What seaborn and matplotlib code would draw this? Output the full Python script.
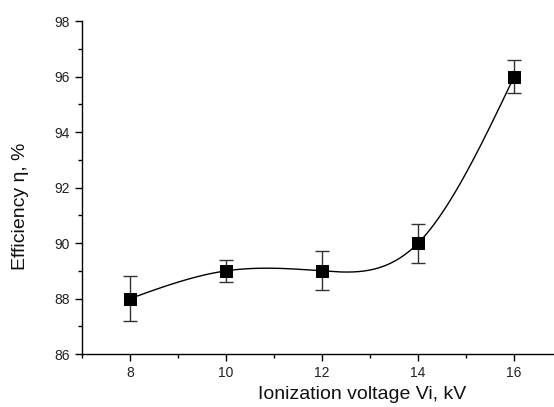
import numpy as np
import pandas as pd
import matplotlib
matplotlib.use("Agg")
import matplotlib.pyplot as plt
import seaborn as sns
from matplotlib.ticker import MultipleLocator

sns.set_theme(style="ticks")
plt.rcParams.update({
    'font.family': ['Liberation Sans', 'DejaVu Sans'],
    'xtick.direction': 'out',
    'ytick.direction': 'out',
})

# measured values
voltage = [8, 10, 12, 14, 16]
efficiency = [88.0, 89.0, 89.0, 90.0, 96.0]
error = [0.8, 0.4, 0.7, 0.7, 0.6]


def natural_spline(x, y, xs):
    # natural cubic spline through the points (smooth line like Origin's)
    x = np.asarray(x, float)
    y = np.asarray(y, float)
    n = len(x)
    h = np.diff(x)
    A = np.zeros((n, n))
    b = np.zeros(n)
    A[0, 0] = A[-1, -1] = 1
    for i in range(1, n - 1):
        A[i, i - 1] = h[i - 1]
        A[i, i] = 2 * (h[i - 1] + h[i])
        A[i, i + 1] = h[i]
        b[i] = 3 * ((y[i + 1] - y[i]) / h[i] - (y[i] - y[i - 1]) / h[i - 1])
    c = np.linalg.solve(A, b)
    out = np.empty_like(xs)
    for k, xv in enumerate(xs):
        i = min(np.searchsorted(x, xv, side='right') - 1, n - 2)
        i = max(i, 0)
        dx = xv - x[i]
        bi = (y[i + 1] - y[i]) / h[i] - h[i] * (2 * c[i] + c[i + 1]) / 3
        di = (c[i + 1] - c[i]) / (3 * h[i])
        out[k] = y[i] + bi * dx + c[i] * dx ** 2 + di * dx ** 3
    return out


df = pd.DataFrame({"Voltage": voltage, "Efficiency": efficiency, "Error": error})
xs = np.linspace(min(voltage), max(voltage), 300)
curve = pd.DataFrame({"Voltage": xs, "Efficiency": natural_spline(voltage, efficiency, xs)})

fig = plt.figure(figsize=(5.54, 4.07), dpi=100)
ax = fig.add_axes([0.148, 0.130, 0.852, 0.818])

sns.lineplot(data=curve, x="Voltage", y="Efficiency", ax=ax, color="black", linewidth=1.0)
ax.errorbar(df["Voltage"], df["Efficiency"], yerr=df["Error"], fmt="none",
            ecolor="#333333", elinewidth=1.0, capsize=5, capthick=1.0, zorder=3)
sns.scatterplot(data=df, x="Voltage", y="Efficiency", ax=ax, marker="s", s=85,
                color="black", edgecolor="black", zorder=4)

ax.set_xlim(7, 16.83)
ax.set_ylim(86, 98)
ax.xaxis.set_major_locator(MultipleLocator(2))
ax.xaxis.set_minor_locator(MultipleLocator(1))
ax.yaxis.set_major_locator(MultipleLocator(2))
ax.yaxis.set_minor_locator(MultipleLocator(1))
ax.tick_params(which="major", length=5, width=1, labelsize=10, color="black", labelcolor="#222222")
ax.tick_params(which="minor", length=3, width=1, color="black")

sns.despine(ax=ax)
for s in ["left", "bottom"]:
    ax.spines[s].set_linewidth(1.0)
    ax.spines[s].set_color("black")

ax.set_xlabel("Ionization voltage Vi, kV", fontsize=14, color="#111111", va="center")
ax.set_ylabel("Efficiency η, %", fontsize=14, color="#111111", va="center")
ax.xaxis.set_label_coords(0.593, -0.12)
ax.yaxis.set_label_coords(-0.131, 0.444)

fig.savefig("out.png", dpi=100)
